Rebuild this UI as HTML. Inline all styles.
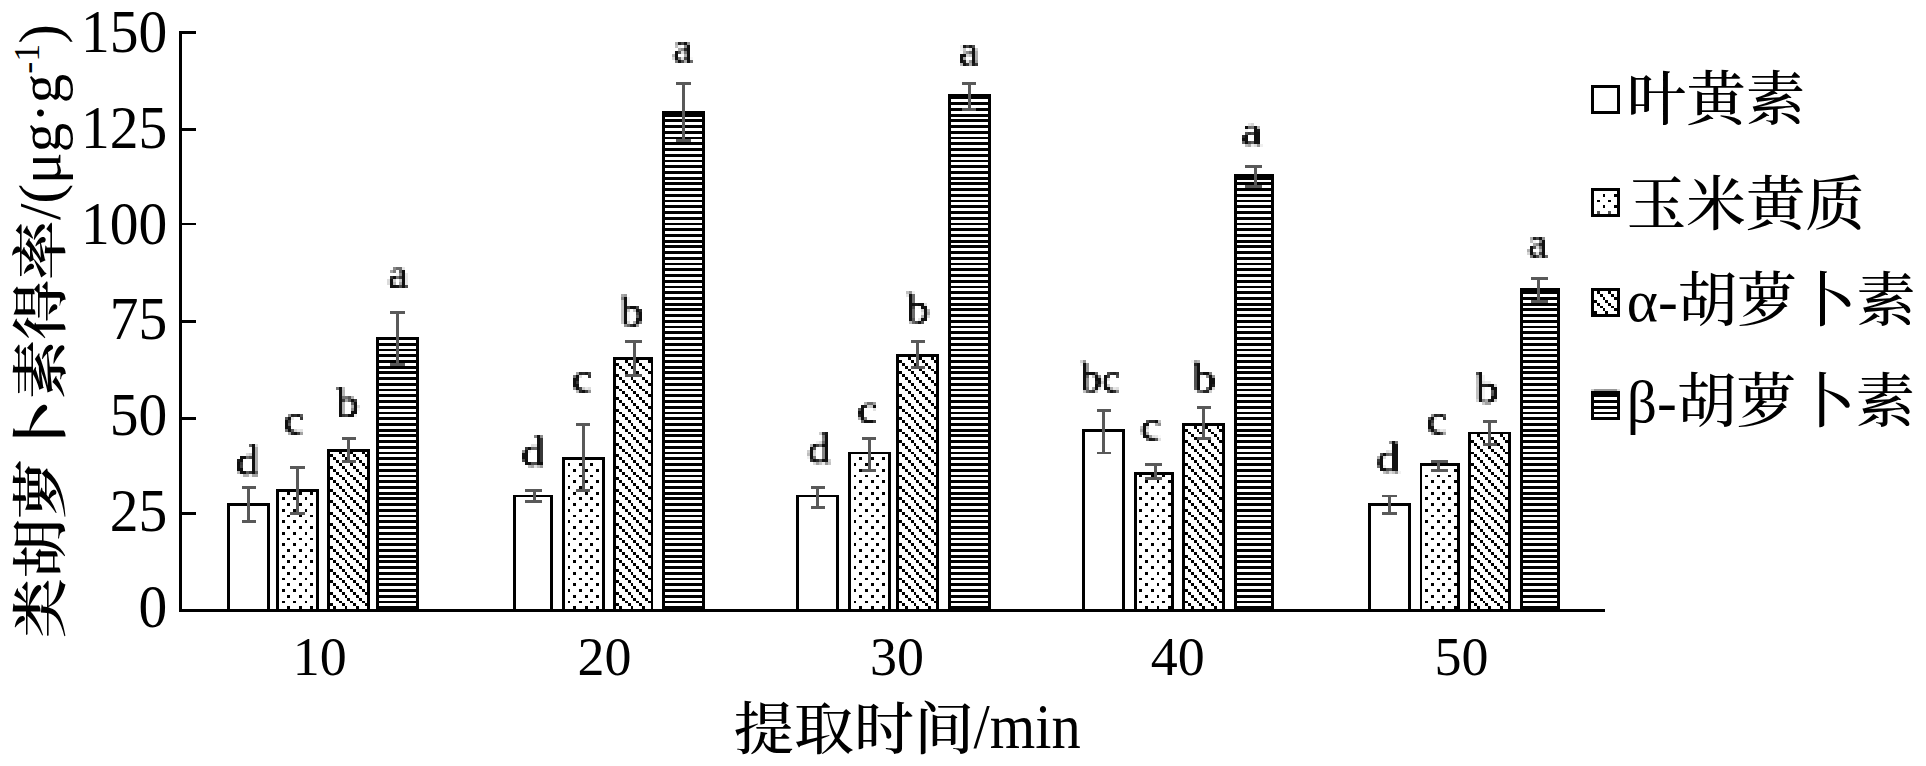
<!DOCTYPE html>
<html lang="zh"><head><meta charset="utf-8"><title>chart</title>
<style>html,body{margin:0;padding:0;background:#fff}svg{display:block}</style></head>
<body><svg width="1926" height="766" viewBox="0 0 1926 766">
<rect width="1926" height="766" fill="#fff"/>
<g transform="translate(1.5,2.056) scale(2.8591,2.8634)" shape-rendering="crispEdges">
<rect x="79" y="175" width="15" height="37" fill="#000"/>
<rect x="80" y="176" width="13" height="36" fill="#fff"/>
<rect x="96" y="170" width="15" height="42" fill="#000"/>
<rect x="97" y="171" width="13" height="41" fill="#fff"/>
<path fill="#000" d="M100 171h1v1h-1zM104 171h1v1h-1zM108 171h1v1h-1zM98 173h1v1h-1zM102 173h1v1h-1zM106 173h1v1h-1zM100 175h1v1h-1zM104 175h1v1h-1zM108 175h1v1h-1zM98 177h1v1h-1zM102 177h1v1h-1zM106 177h1v1h-1zM100 179h1v1h-1zM104 179h1v1h-1zM108 179h1v1h-1zM98 181h1v1h-1zM102 181h1v1h-1zM106 181h1v1h-1zM100 183h1v1h-1zM104 183h1v1h-1zM108 183h1v1h-1zM98 185h1v1h-1zM102 185h1v1h-1zM106 185h1v1h-1zM100 187h1v1h-1zM104 187h1v1h-1zM108 187h1v1h-1zM98 189h1v1h-1zM102 189h1v1h-1zM106 189h1v1h-1zM100 191h1v1h-1zM104 191h1v1h-1zM108 191h1v1h-1zM98 193h1v1h-1zM102 193h1v1h-1zM106 193h1v1h-1zM100 195h1v1h-1zM104 195h1v1h-1zM108 195h1v1h-1zM98 197h1v1h-1zM102 197h1v1h-1zM106 197h1v1h-1zM100 199h1v1h-1zM104 199h1v1h-1zM108 199h1v1h-1zM98 201h1v1h-1zM102 201h1v1h-1zM106 201h1v1h-1zM100 203h1v1h-1zM104 203h1v1h-1zM108 203h1v1h-1zM98 205h1v1h-1zM102 205h1v1h-1zM106 205h1v1h-1zM100 207h1v1h-1zM104 207h1v1h-1zM108 207h1v1h-1zM98 209h1v1h-1zM102 209h1v1h-1zM106 209h1v1h-1zM100 211h1v1h-1zM104 211h1v1h-1zM108 211h1v1h-1z"/>
<rect x="114" y="156" width="15" height="56" fill="#000"/>
<rect x="115" y="157" width="13" height="55" fill="#fff"/>
<path fill="#000" d="M118 157h1v1h-1zM122 157h1v1h-1zM126 157h1v1h-1zM115 158h1v1h-1zM119 158h1v1h-1zM123 158h1v1h-1zM127 158h1v1h-1zM116 159h1v1h-1zM120 159h1v1h-1zM124 159h1v1h-1zM117 160h1v1h-1zM121 160h1v1h-1zM125 160h1v1h-1zM118 161h1v1h-1zM122 161h1v1h-1zM126 161h1v1h-1zM115 162h1v1h-1zM119 162h1v1h-1zM123 162h1v1h-1zM127 162h1v1h-1zM116 163h1v1h-1zM120 163h1v1h-1zM124 163h1v1h-1zM117 164h1v1h-1zM121 164h1v1h-1zM125 164h1v1h-1zM118 165h1v1h-1zM122 165h1v1h-1zM126 165h1v1h-1zM115 166h1v1h-1zM119 166h1v1h-1zM123 166h1v1h-1zM127 166h1v1h-1zM116 167h1v1h-1zM120 167h1v1h-1zM124 167h1v1h-1zM117 168h1v1h-1zM121 168h1v1h-1zM125 168h1v1h-1zM118 169h1v1h-1zM122 169h1v1h-1zM126 169h1v1h-1zM115 170h1v1h-1zM119 170h1v1h-1zM123 170h1v1h-1zM127 170h1v1h-1zM116 171h1v1h-1zM120 171h1v1h-1zM124 171h1v1h-1zM117 172h1v1h-1zM121 172h1v1h-1zM125 172h1v1h-1zM118 173h1v1h-1zM122 173h1v1h-1zM126 173h1v1h-1zM115 174h1v1h-1zM119 174h1v1h-1zM123 174h1v1h-1zM127 174h1v1h-1zM116 175h1v1h-1zM120 175h1v1h-1zM124 175h1v1h-1zM117 176h1v1h-1zM121 176h1v1h-1zM125 176h1v1h-1zM118 177h1v1h-1zM122 177h1v1h-1zM126 177h1v1h-1zM115 178h1v1h-1zM119 178h1v1h-1zM123 178h1v1h-1zM127 178h1v1h-1zM116 179h1v1h-1zM120 179h1v1h-1zM124 179h1v1h-1zM117 180h1v1h-1zM121 180h1v1h-1zM125 180h1v1h-1zM118 181h1v1h-1zM122 181h1v1h-1zM126 181h1v1h-1zM115 182h1v1h-1zM119 182h1v1h-1zM123 182h1v1h-1zM127 182h1v1h-1zM116 183h1v1h-1zM120 183h1v1h-1zM124 183h1v1h-1zM117 184h1v1h-1zM121 184h1v1h-1zM125 184h1v1h-1zM118 185h1v1h-1zM122 185h1v1h-1zM126 185h1v1h-1zM115 186h1v1h-1zM119 186h1v1h-1zM123 186h1v1h-1zM127 186h1v1h-1zM116 187h1v1h-1zM120 187h1v1h-1zM124 187h1v1h-1zM117 188h1v1h-1zM121 188h1v1h-1zM125 188h1v1h-1zM118 189h1v1h-1zM122 189h1v1h-1zM126 189h1v1h-1zM115 190h1v1h-1zM119 190h1v1h-1zM123 190h1v1h-1zM127 190h1v1h-1zM116 191h1v1h-1zM120 191h1v1h-1zM124 191h1v1h-1zM117 192h1v1h-1zM121 192h1v1h-1zM125 192h1v1h-1zM118 193h1v1h-1zM122 193h1v1h-1zM126 193h1v1h-1zM115 194h1v1h-1zM119 194h1v1h-1zM123 194h1v1h-1zM127 194h1v1h-1zM116 195h1v1h-1zM120 195h1v1h-1zM124 195h1v1h-1zM117 196h1v1h-1zM121 196h1v1h-1zM125 196h1v1h-1zM118 197h1v1h-1zM122 197h1v1h-1zM126 197h1v1h-1zM115 198h1v1h-1zM119 198h1v1h-1zM123 198h1v1h-1zM127 198h1v1h-1zM116 199h1v1h-1zM120 199h1v1h-1zM124 199h1v1h-1zM117 200h1v1h-1zM121 200h1v1h-1zM125 200h1v1h-1zM118 201h1v1h-1zM122 201h1v1h-1zM126 201h1v1h-1zM115 202h1v1h-1zM119 202h1v1h-1zM123 202h1v1h-1zM127 202h1v1h-1zM116 203h1v1h-1zM120 203h1v1h-1zM124 203h1v1h-1zM117 204h1v1h-1zM121 204h1v1h-1zM125 204h1v1h-1zM118 205h1v1h-1zM122 205h1v1h-1zM126 205h1v1h-1zM115 206h1v1h-1zM119 206h1v1h-1zM123 206h1v1h-1zM127 206h1v1h-1zM116 207h1v1h-1zM120 207h1v1h-1zM124 207h1v1h-1zM117 208h1v1h-1zM121 208h1v1h-1zM125 208h1v1h-1zM118 209h1v1h-1zM122 209h1v1h-1zM126 209h1v1h-1zM115 210h1v1h-1zM119 210h1v1h-1zM123 210h1v1h-1zM127 210h1v1h-1zM116 211h1v1h-1zM120 211h1v1h-1zM124 211h1v1h-1z"/>
<rect x="131" y="117" width="15" height="95" fill="#000"/>
<rect x="132" y="118" width="13" height="94" fill="#fff"/>
<path fill="#000" d="M132 119h13v1h-13zM132 121h13v1h-13zM132 123h13v1h-13zM132 125h13v1h-13zM132 127h13v1h-13zM132 129h13v1h-13zM132 131h13v1h-13zM132 133h13v1h-13zM132 135h13v1h-13zM132 137h13v1h-13zM132 139h13v1h-13zM132 141h13v1h-13zM132 143h13v1h-13zM132 145h13v1h-13zM132 147h13v1h-13zM132 149h13v1h-13zM132 151h13v1h-13zM132 153h13v1h-13zM132 155h13v1h-13zM132 157h13v1h-13zM132 159h13v1h-13zM132 161h13v1h-13zM132 163h13v1h-13zM132 165h13v1h-13zM132 167h13v1h-13zM132 169h13v1h-13zM132 171h13v1h-13zM132 173h13v1h-13zM132 175h13v1h-13zM132 177h13v1h-13zM132 179h13v1h-13zM132 181h13v1h-13zM132 183h13v1h-13zM132 185h13v1h-13zM132 187h13v1h-13zM132 189h13v1h-13zM132 191h13v1h-13zM132 193h13v1h-13zM132 195h13v1h-13zM132 197h13v1h-13zM132 199h13v1h-13zM132 201h13v1h-13zM132 203h13v1h-13zM132 205h13v1h-13zM132 207h13v1h-13zM132 209h13v1h-13zM132 211h13v1h-13z"/>
<rect x="179" y="172" width="14" height="40" fill="#000"/>
<rect x="180" y="173" width="12" height="39" fill="#fff"/>
<rect x="196" y="159" width="15" height="53" fill="#000"/>
<rect x="197" y="160" width="13" height="52" fill="#fff"/>
<path fill="#000" d="M198 161h1v1h-1zM202 161h1v1h-1zM206 161h1v1h-1zM200 163h1v1h-1zM204 163h1v1h-1zM208 163h1v1h-1zM198 165h1v1h-1zM202 165h1v1h-1zM206 165h1v1h-1zM200 167h1v1h-1zM204 167h1v1h-1zM208 167h1v1h-1zM198 169h1v1h-1zM202 169h1v1h-1zM206 169h1v1h-1zM200 171h1v1h-1zM204 171h1v1h-1zM208 171h1v1h-1zM198 173h1v1h-1zM202 173h1v1h-1zM206 173h1v1h-1zM200 175h1v1h-1zM204 175h1v1h-1zM208 175h1v1h-1zM198 177h1v1h-1zM202 177h1v1h-1zM206 177h1v1h-1zM200 179h1v1h-1zM204 179h1v1h-1zM208 179h1v1h-1zM198 181h1v1h-1zM202 181h1v1h-1zM206 181h1v1h-1zM200 183h1v1h-1zM204 183h1v1h-1zM208 183h1v1h-1zM198 185h1v1h-1zM202 185h1v1h-1zM206 185h1v1h-1zM200 187h1v1h-1zM204 187h1v1h-1zM208 187h1v1h-1zM198 189h1v1h-1zM202 189h1v1h-1zM206 189h1v1h-1zM200 191h1v1h-1zM204 191h1v1h-1zM208 191h1v1h-1zM198 193h1v1h-1zM202 193h1v1h-1zM206 193h1v1h-1zM200 195h1v1h-1zM204 195h1v1h-1zM208 195h1v1h-1zM198 197h1v1h-1zM202 197h1v1h-1zM206 197h1v1h-1zM200 199h1v1h-1zM204 199h1v1h-1zM208 199h1v1h-1zM198 201h1v1h-1zM202 201h1v1h-1zM206 201h1v1h-1zM200 203h1v1h-1zM204 203h1v1h-1zM208 203h1v1h-1zM198 205h1v1h-1zM202 205h1v1h-1zM206 205h1v1h-1zM200 207h1v1h-1zM204 207h1v1h-1zM208 207h1v1h-1zM198 209h1v1h-1zM202 209h1v1h-1zM206 209h1v1h-1zM200 211h1v1h-1zM204 211h1v1h-1zM208 211h1v1h-1z"/>
<rect x="214" y="124" width="14" height="88" fill="#000"/>
<rect x="215" y="125" width="12" height="87" fill="#fff"/>
<path fill="#000" d="M218 125h1v1h-1zM222 125h1v1h-1zM226 125h1v1h-1zM215 126h1v1h-1zM219 126h1v1h-1zM223 126h1v1h-1zM216 127h1v1h-1zM220 127h1v1h-1zM224 127h1v1h-1zM217 128h1v1h-1zM221 128h1v1h-1zM225 128h1v1h-1zM218 129h1v1h-1zM222 129h1v1h-1zM226 129h1v1h-1zM215 130h1v1h-1zM219 130h1v1h-1zM223 130h1v1h-1zM216 131h1v1h-1zM220 131h1v1h-1zM224 131h1v1h-1zM217 132h1v1h-1zM221 132h1v1h-1zM225 132h1v1h-1zM218 133h1v1h-1zM222 133h1v1h-1zM226 133h1v1h-1zM215 134h1v1h-1zM219 134h1v1h-1zM223 134h1v1h-1zM216 135h1v1h-1zM220 135h1v1h-1zM224 135h1v1h-1zM217 136h1v1h-1zM221 136h1v1h-1zM225 136h1v1h-1zM218 137h1v1h-1zM222 137h1v1h-1zM226 137h1v1h-1zM215 138h1v1h-1zM219 138h1v1h-1zM223 138h1v1h-1zM216 139h1v1h-1zM220 139h1v1h-1zM224 139h1v1h-1zM217 140h1v1h-1zM221 140h1v1h-1zM225 140h1v1h-1zM218 141h1v1h-1zM222 141h1v1h-1zM226 141h1v1h-1zM215 142h1v1h-1zM219 142h1v1h-1zM223 142h1v1h-1zM216 143h1v1h-1zM220 143h1v1h-1zM224 143h1v1h-1zM217 144h1v1h-1zM221 144h1v1h-1zM225 144h1v1h-1zM218 145h1v1h-1zM222 145h1v1h-1zM226 145h1v1h-1zM215 146h1v1h-1zM219 146h1v1h-1zM223 146h1v1h-1zM216 147h1v1h-1zM220 147h1v1h-1zM224 147h1v1h-1zM217 148h1v1h-1zM221 148h1v1h-1zM225 148h1v1h-1zM218 149h1v1h-1zM222 149h1v1h-1zM226 149h1v1h-1zM215 150h1v1h-1zM219 150h1v1h-1zM223 150h1v1h-1zM216 151h1v1h-1zM220 151h1v1h-1zM224 151h1v1h-1zM217 152h1v1h-1zM221 152h1v1h-1zM225 152h1v1h-1zM218 153h1v1h-1zM222 153h1v1h-1zM226 153h1v1h-1zM215 154h1v1h-1zM219 154h1v1h-1zM223 154h1v1h-1zM216 155h1v1h-1zM220 155h1v1h-1zM224 155h1v1h-1zM217 156h1v1h-1zM221 156h1v1h-1zM225 156h1v1h-1zM218 157h1v1h-1zM222 157h1v1h-1zM226 157h1v1h-1zM215 158h1v1h-1zM219 158h1v1h-1zM223 158h1v1h-1zM216 159h1v1h-1zM220 159h1v1h-1zM224 159h1v1h-1zM217 160h1v1h-1zM221 160h1v1h-1zM225 160h1v1h-1zM218 161h1v1h-1zM222 161h1v1h-1zM226 161h1v1h-1zM215 162h1v1h-1zM219 162h1v1h-1zM223 162h1v1h-1zM216 163h1v1h-1zM220 163h1v1h-1zM224 163h1v1h-1zM217 164h1v1h-1zM221 164h1v1h-1zM225 164h1v1h-1zM218 165h1v1h-1zM222 165h1v1h-1zM226 165h1v1h-1zM215 166h1v1h-1zM219 166h1v1h-1zM223 166h1v1h-1zM216 167h1v1h-1zM220 167h1v1h-1zM224 167h1v1h-1zM217 168h1v1h-1zM221 168h1v1h-1zM225 168h1v1h-1zM218 169h1v1h-1zM222 169h1v1h-1zM226 169h1v1h-1zM215 170h1v1h-1zM219 170h1v1h-1zM223 170h1v1h-1zM216 171h1v1h-1zM220 171h1v1h-1zM224 171h1v1h-1zM217 172h1v1h-1zM221 172h1v1h-1zM225 172h1v1h-1zM218 173h1v1h-1zM222 173h1v1h-1zM226 173h1v1h-1zM215 174h1v1h-1zM219 174h1v1h-1zM223 174h1v1h-1zM216 175h1v1h-1zM220 175h1v1h-1zM224 175h1v1h-1zM217 176h1v1h-1zM221 176h1v1h-1zM225 176h1v1h-1zM218 177h1v1h-1zM222 177h1v1h-1zM226 177h1v1h-1zM215 178h1v1h-1zM219 178h1v1h-1zM223 178h1v1h-1zM216 179h1v1h-1zM220 179h1v1h-1zM224 179h1v1h-1zM217 180h1v1h-1zM221 180h1v1h-1zM225 180h1v1h-1zM218 181h1v1h-1zM222 181h1v1h-1zM226 181h1v1h-1zM215 182h1v1h-1zM219 182h1v1h-1zM223 182h1v1h-1zM216 183h1v1h-1zM220 183h1v1h-1zM224 183h1v1h-1zM217 184h1v1h-1zM221 184h1v1h-1zM225 184h1v1h-1zM218 185h1v1h-1zM222 185h1v1h-1zM226 185h1v1h-1zM215 186h1v1h-1zM219 186h1v1h-1zM223 186h1v1h-1zM216 187h1v1h-1zM220 187h1v1h-1zM224 187h1v1h-1zM217 188h1v1h-1zM221 188h1v1h-1zM225 188h1v1h-1zM218 189h1v1h-1zM222 189h1v1h-1zM226 189h1v1h-1zM215 190h1v1h-1zM219 190h1v1h-1zM223 190h1v1h-1zM216 191h1v1h-1zM220 191h1v1h-1zM224 191h1v1h-1zM217 192h1v1h-1zM221 192h1v1h-1zM225 192h1v1h-1zM218 193h1v1h-1zM222 193h1v1h-1zM226 193h1v1h-1zM215 194h1v1h-1zM219 194h1v1h-1zM223 194h1v1h-1zM216 195h1v1h-1zM220 195h1v1h-1zM224 195h1v1h-1zM217 196h1v1h-1zM221 196h1v1h-1zM225 196h1v1h-1zM218 197h1v1h-1zM222 197h1v1h-1zM226 197h1v1h-1zM215 198h1v1h-1zM219 198h1v1h-1zM223 198h1v1h-1zM216 199h1v1h-1zM220 199h1v1h-1zM224 199h1v1h-1zM217 200h1v1h-1zM221 200h1v1h-1zM225 200h1v1h-1zM218 201h1v1h-1zM222 201h1v1h-1zM226 201h1v1h-1zM215 202h1v1h-1zM219 202h1v1h-1zM223 202h1v1h-1zM216 203h1v1h-1zM220 203h1v1h-1zM224 203h1v1h-1zM217 204h1v1h-1zM221 204h1v1h-1zM225 204h1v1h-1zM218 205h1v1h-1zM222 205h1v1h-1zM226 205h1v1h-1zM215 206h1v1h-1zM219 206h1v1h-1zM223 206h1v1h-1zM216 207h1v1h-1zM220 207h1v1h-1zM224 207h1v1h-1zM217 208h1v1h-1zM221 208h1v1h-1zM225 208h1v1h-1zM218 209h1v1h-1zM222 209h1v1h-1zM226 209h1v1h-1zM215 210h1v1h-1zM219 210h1v1h-1zM223 210h1v1h-1zM216 211h1v1h-1zM220 211h1v1h-1zM224 211h1v1h-1z"/>
<rect x="231" y="38" width="15" height="174" fill="#000"/>
<rect x="232" y="39" width="13" height="173" fill="#fff"/>
<path fill="#000" d="M232 39h13v1h-13zM232 41h13v1h-13zM232 43h13v1h-13zM232 45h13v1h-13zM232 47h13v1h-13zM232 49h13v1h-13zM232 51h13v1h-13zM232 53h13v1h-13zM232 55h13v1h-13zM232 57h13v1h-13zM232 59h13v1h-13zM232 61h13v1h-13zM232 63h13v1h-13zM232 65h13v1h-13zM232 67h13v1h-13zM232 69h13v1h-13zM232 71h13v1h-13zM232 73h13v1h-13zM232 75h13v1h-13zM232 77h13v1h-13zM232 79h13v1h-13zM232 81h13v1h-13zM232 83h13v1h-13zM232 85h13v1h-13zM232 87h13v1h-13zM232 89h13v1h-13zM232 91h13v1h-13zM232 93h13v1h-13zM232 95h13v1h-13zM232 97h13v1h-13zM232 99h13v1h-13zM232 101h13v1h-13zM232 103h13v1h-13zM232 105h13v1h-13zM232 107h13v1h-13zM232 109h13v1h-13zM232 111h13v1h-13zM232 113h13v1h-13zM232 115h13v1h-13zM232 117h13v1h-13zM232 119h13v1h-13zM232 121h13v1h-13zM232 123h13v1h-13zM232 125h13v1h-13zM232 127h13v1h-13zM232 129h13v1h-13zM232 131h13v1h-13zM232 133h13v1h-13zM232 135h13v1h-13zM232 137h13v1h-13zM232 139h13v1h-13zM232 141h13v1h-13zM232 143h13v1h-13zM232 145h13v1h-13zM232 147h13v1h-13zM232 149h13v1h-13zM232 151h13v1h-13zM232 153h13v1h-13zM232 155h13v1h-13zM232 157h13v1h-13zM232 159h13v1h-13zM232 161h13v1h-13zM232 163h13v1h-13zM232 165h13v1h-13zM232 167h13v1h-13zM232 169h13v1h-13zM232 171h13v1h-13zM232 173h13v1h-13zM232 175h13v1h-13zM232 177h13v1h-13zM232 179h13v1h-13zM232 181h13v1h-13zM232 183h13v1h-13zM232 185h13v1h-13zM232 187h13v1h-13zM232 189h13v1h-13zM232 191h13v1h-13zM232 193h13v1h-13zM232 195h13v1h-13zM232 197h13v1h-13zM232 199h13v1h-13zM232 201h13v1h-13zM232 203h13v1h-13zM232 205h13v1h-13zM232 207h13v1h-13zM232 209h13v1h-13zM232 211h13v1h-13z"/>
<rect x="278" y="172" width="15" height="40" fill="#000"/>
<rect x="279" y="173" width="13" height="39" fill="#fff"/>
<rect x="296" y="157" width="15" height="55" fill="#000"/>
<rect x="297" y="158" width="13" height="54" fill="#fff"/>
<path fill="#000" d="M300 159h1v1h-1zM304 159h1v1h-1zM308 159h1v1h-1zM298 161h1v1h-1zM302 161h1v1h-1zM306 161h1v1h-1zM300 163h1v1h-1zM304 163h1v1h-1zM308 163h1v1h-1zM298 165h1v1h-1zM302 165h1v1h-1zM306 165h1v1h-1zM300 167h1v1h-1zM304 167h1v1h-1zM308 167h1v1h-1zM298 169h1v1h-1zM302 169h1v1h-1zM306 169h1v1h-1zM300 171h1v1h-1zM304 171h1v1h-1zM308 171h1v1h-1zM298 173h1v1h-1zM302 173h1v1h-1zM306 173h1v1h-1zM300 175h1v1h-1zM304 175h1v1h-1zM308 175h1v1h-1zM298 177h1v1h-1zM302 177h1v1h-1zM306 177h1v1h-1zM300 179h1v1h-1zM304 179h1v1h-1zM308 179h1v1h-1zM298 181h1v1h-1zM302 181h1v1h-1zM306 181h1v1h-1zM300 183h1v1h-1zM304 183h1v1h-1zM308 183h1v1h-1zM298 185h1v1h-1zM302 185h1v1h-1zM306 185h1v1h-1zM300 187h1v1h-1zM304 187h1v1h-1zM308 187h1v1h-1zM298 189h1v1h-1zM302 189h1v1h-1zM306 189h1v1h-1zM300 191h1v1h-1zM304 191h1v1h-1zM308 191h1v1h-1zM298 193h1v1h-1zM302 193h1v1h-1zM306 193h1v1h-1zM300 195h1v1h-1zM304 195h1v1h-1zM308 195h1v1h-1zM298 197h1v1h-1zM302 197h1v1h-1zM306 197h1v1h-1zM300 199h1v1h-1zM304 199h1v1h-1zM308 199h1v1h-1zM298 201h1v1h-1zM302 201h1v1h-1zM306 201h1v1h-1zM300 203h1v1h-1zM304 203h1v1h-1zM308 203h1v1h-1zM298 205h1v1h-1zM302 205h1v1h-1zM306 205h1v1h-1zM300 207h1v1h-1zM304 207h1v1h-1zM308 207h1v1h-1zM298 209h1v1h-1zM302 209h1v1h-1zM306 209h1v1h-1zM300 211h1v1h-1zM304 211h1v1h-1zM308 211h1v1h-1z"/>
<rect x="313" y="123" width="15" height="89" fill="#000"/>
<rect x="314" y="124" width="13" height="88" fill="#fff"/>
<path fill="#000" d="M317 124h1v1h-1zM321 124h1v1h-1zM325 124h1v1h-1zM314 125h1v1h-1zM318 125h1v1h-1zM322 125h1v1h-1zM326 125h1v1h-1zM315 126h1v1h-1zM319 126h1v1h-1zM323 126h1v1h-1zM316 127h1v1h-1zM320 127h1v1h-1zM324 127h1v1h-1zM317 128h1v1h-1zM321 128h1v1h-1zM325 128h1v1h-1zM314 129h1v1h-1zM318 129h1v1h-1zM322 129h1v1h-1zM326 129h1v1h-1zM315 130h1v1h-1zM319 130h1v1h-1zM323 130h1v1h-1zM316 131h1v1h-1zM320 131h1v1h-1zM324 131h1v1h-1zM317 132h1v1h-1zM321 132h1v1h-1zM325 132h1v1h-1zM314 133h1v1h-1zM318 133h1v1h-1zM322 133h1v1h-1zM326 133h1v1h-1zM315 134h1v1h-1zM319 134h1v1h-1zM323 134h1v1h-1zM316 135h1v1h-1zM320 135h1v1h-1zM324 135h1v1h-1zM317 136h1v1h-1zM321 136h1v1h-1zM325 136h1v1h-1zM314 137h1v1h-1zM318 137h1v1h-1zM322 137h1v1h-1zM326 137h1v1h-1zM315 138h1v1h-1zM319 138h1v1h-1zM323 138h1v1h-1zM316 139h1v1h-1zM320 139h1v1h-1zM324 139h1v1h-1zM317 140h1v1h-1zM321 140h1v1h-1zM325 140h1v1h-1zM314 141h1v1h-1zM318 141h1v1h-1zM322 141h1v1h-1zM326 141h1v1h-1zM315 142h1v1h-1zM319 142h1v1h-1zM323 142h1v1h-1zM316 143h1v1h-1zM320 143h1v1h-1zM324 143h1v1h-1zM317 144h1v1h-1zM321 144h1v1h-1zM325 144h1v1h-1zM314 145h1v1h-1zM318 145h1v1h-1zM322 145h1v1h-1zM326 145h1v1h-1zM315 146h1v1h-1zM319 146h1v1h-1zM323 146h1v1h-1zM316 147h1v1h-1zM320 147h1v1h-1zM324 147h1v1h-1zM317 148h1v1h-1zM321 148h1v1h-1zM325 148h1v1h-1zM314 149h1v1h-1zM318 149h1v1h-1zM322 149h1v1h-1zM326 149h1v1h-1zM315 150h1v1h-1zM319 150h1v1h-1zM323 150h1v1h-1zM316 151h1v1h-1zM320 151h1v1h-1zM324 151h1v1h-1zM317 152h1v1h-1zM321 152h1v1h-1zM325 152h1v1h-1zM314 153h1v1h-1zM318 153h1v1h-1zM322 153h1v1h-1zM326 153h1v1h-1zM315 154h1v1h-1zM319 154h1v1h-1zM323 154h1v1h-1zM316 155h1v1h-1zM320 155h1v1h-1zM324 155h1v1h-1zM317 156h1v1h-1zM321 156h1v1h-1zM325 156h1v1h-1zM314 157h1v1h-1zM318 157h1v1h-1zM322 157h1v1h-1zM326 157h1v1h-1zM315 158h1v1h-1zM319 158h1v1h-1zM323 158h1v1h-1zM316 159h1v1h-1zM320 159h1v1h-1zM324 159h1v1h-1zM317 160h1v1h-1zM321 160h1v1h-1zM325 160h1v1h-1zM314 161h1v1h-1zM318 161h1v1h-1zM322 161h1v1h-1zM326 161h1v1h-1zM315 162h1v1h-1zM319 162h1v1h-1zM323 162h1v1h-1zM316 163h1v1h-1zM320 163h1v1h-1zM324 163h1v1h-1zM317 164h1v1h-1zM321 164h1v1h-1zM325 164h1v1h-1zM314 165h1v1h-1zM318 165h1v1h-1zM322 165h1v1h-1zM326 165h1v1h-1zM315 166h1v1h-1zM319 166h1v1h-1zM323 166h1v1h-1zM316 167h1v1h-1zM320 167h1v1h-1zM324 167h1v1h-1zM317 168h1v1h-1zM321 168h1v1h-1zM325 168h1v1h-1zM314 169h1v1h-1zM318 169h1v1h-1zM322 169h1v1h-1zM326 169h1v1h-1zM315 170h1v1h-1zM319 170h1v1h-1zM323 170h1v1h-1zM316 171h1v1h-1zM320 171h1v1h-1zM324 171h1v1h-1zM317 172h1v1h-1zM321 172h1v1h-1zM325 172h1v1h-1zM314 173h1v1h-1zM318 173h1v1h-1zM322 173h1v1h-1zM326 173h1v1h-1zM315 174h1v1h-1zM319 174h1v1h-1zM323 174h1v1h-1zM316 175h1v1h-1zM320 175h1v1h-1zM324 175h1v1h-1zM317 176h1v1h-1zM321 176h1v1h-1zM325 176h1v1h-1zM314 177h1v1h-1zM318 177h1v1h-1zM322 177h1v1h-1zM326 177h1v1h-1zM315 178h1v1h-1zM319 178h1v1h-1zM323 178h1v1h-1zM316 179h1v1h-1zM320 179h1v1h-1zM324 179h1v1h-1zM317 180h1v1h-1zM321 180h1v1h-1zM325 180h1v1h-1zM314 181h1v1h-1zM318 181h1v1h-1zM322 181h1v1h-1zM326 181h1v1h-1zM315 182h1v1h-1zM319 182h1v1h-1zM323 182h1v1h-1zM316 183h1v1h-1zM320 183h1v1h-1zM324 183h1v1h-1zM317 184h1v1h-1zM321 184h1v1h-1zM325 184h1v1h-1zM314 185h1v1h-1zM318 185h1v1h-1zM322 185h1v1h-1zM326 185h1v1h-1zM315 186h1v1h-1zM319 186h1v1h-1zM323 186h1v1h-1zM316 187h1v1h-1zM320 187h1v1h-1zM324 187h1v1h-1zM317 188h1v1h-1zM321 188h1v1h-1zM325 188h1v1h-1zM314 189h1v1h-1zM318 189h1v1h-1zM322 189h1v1h-1zM326 189h1v1h-1zM315 190h1v1h-1zM319 190h1v1h-1zM323 190h1v1h-1zM316 191h1v1h-1zM320 191h1v1h-1zM324 191h1v1h-1zM317 192h1v1h-1zM321 192h1v1h-1zM325 192h1v1h-1zM314 193h1v1h-1zM318 193h1v1h-1zM322 193h1v1h-1zM326 193h1v1h-1zM315 194h1v1h-1zM319 194h1v1h-1zM323 194h1v1h-1zM316 195h1v1h-1zM320 195h1v1h-1zM324 195h1v1h-1zM317 196h1v1h-1zM321 196h1v1h-1zM325 196h1v1h-1zM314 197h1v1h-1zM318 197h1v1h-1zM322 197h1v1h-1zM326 197h1v1h-1zM315 198h1v1h-1zM319 198h1v1h-1zM323 198h1v1h-1zM316 199h1v1h-1zM320 199h1v1h-1zM324 199h1v1h-1zM317 200h1v1h-1zM321 200h1v1h-1zM325 200h1v1h-1zM314 201h1v1h-1zM318 201h1v1h-1zM322 201h1v1h-1zM326 201h1v1h-1zM315 202h1v1h-1zM319 202h1v1h-1zM323 202h1v1h-1zM316 203h1v1h-1zM320 203h1v1h-1zM324 203h1v1h-1zM317 204h1v1h-1zM321 204h1v1h-1zM325 204h1v1h-1zM314 205h1v1h-1zM318 205h1v1h-1zM322 205h1v1h-1zM326 205h1v1h-1zM315 206h1v1h-1zM319 206h1v1h-1zM323 206h1v1h-1zM316 207h1v1h-1zM320 207h1v1h-1zM324 207h1v1h-1zM317 208h1v1h-1zM321 208h1v1h-1zM325 208h1v1h-1zM314 209h1v1h-1zM318 209h1v1h-1zM322 209h1v1h-1zM326 209h1v1h-1zM315 210h1v1h-1zM319 210h1v1h-1zM323 210h1v1h-1zM316 211h1v1h-1zM320 211h1v1h-1zM324 211h1v1h-1z"/>
<rect x="331" y="32" width="15" height="180" fill="#000"/>
<rect x="332" y="33" width="13" height="179" fill="#fff"/>
<path fill="#000" d="M332 33h13v1h-13zM332 35h13v1h-13zM332 37h13v1h-13zM332 39h13v1h-13zM332 41h13v1h-13zM332 43h13v1h-13zM332 45h13v1h-13zM332 47h13v1h-13zM332 49h13v1h-13zM332 51h13v1h-13zM332 53h13v1h-13zM332 55h13v1h-13zM332 57h13v1h-13zM332 59h13v1h-13zM332 61h13v1h-13zM332 63h13v1h-13zM332 65h13v1h-13zM332 67h13v1h-13zM332 69h13v1h-13zM332 71h13v1h-13zM332 73h13v1h-13zM332 75h13v1h-13zM332 77h13v1h-13zM332 79h13v1h-13zM332 81h13v1h-13zM332 83h13v1h-13zM332 85h13v1h-13zM332 87h13v1h-13zM332 89h13v1h-13zM332 91h13v1h-13zM332 93h13v1h-13zM332 95h13v1h-13zM332 97h13v1h-13zM332 99h13v1h-13zM332 101h13v1h-13zM332 103h13v1h-13zM332 105h13v1h-13zM332 107h13v1h-13zM332 109h13v1h-13zM332 111h13v1h-13zM332 113h13v1h-13zM332 115h13v1h-13zM332 117h13v1h-13zM332 119h13v1h-13zM332 121h13v1h-13zM332 123h13v1h-13zM332 125h13v1h-13zM332 127h13v1h-13zM332 129h13v1h-13zM332 131h13v1h-13zM332 133h13v1h-13zM332 135h13v1h-13zM332 137h13v1h-13zM332 139h13v1h-13zM332 141h13v1h-13zM332 143h13v1h-13zM332 145h13v1h-13zM332 147h13v1h-13zM332 149h13v1h-13zM332 151h13v1h-13zM332 153h13v1h-13zM332 155h13v1h-13zM332 157h13v1h-13zM332 159h13v1h-13zM332 161h13v1h-13zM332 163h13v1h-13zM332 165h13v1h-13zM332 167h13v1h-13zM332 169h13v1h-13zM332 171h13v1h-13zM332 173h13v1h-13zM332 175h13v1h-13zM332 177h13v1h-13zM332 179h13v1h-13zM332 181h13v1h-13zM332 183h13v1h-13zM332 185h13v1h-13zM332 187h13v1h-13zM332 189h13v1h-13zM332 191h13v1h-13zM332 193h13v1h-13zM332 195h13v1h-13zM332 197h13v1h-13zM332 199h13v1h-13zM332 201h13v1h-13zM332 203h13v1h-13zM332 205h13v1h-13zM332 207h13v1h-13zM332 209h13v1h-13zM332 211h13v1h-13z"/>
<rect x="378" y="149" width="15" height="63" fill="#000"/>
<rect x="379" y="150" width="13" height="62" fill="#fff"/>
<rect x="396" y="164" width="14" height="48" fill="#000"/>
<rect x="397" y="165" width="12" height="47" fill="#fff"/>
<path fill="#000" d="M398 165h1v1h-1zM402 165h1v1h-1zM406 165h1v1h-1zM400 167h1v1h-1zM404 167h1v1h-1zM408 167h1v1h-1zM398 169h1v1h-1zM402 169h1v1h-1zM406 169h1v1h-1zM400 171h1v1h-1zM404 171h1v1h-1zM408 171h1v1h-1zM398 173h1v1h-1zM402 173h1v1h-1zM406 173h1v1h-1zM400 175h1v1h-1zM404 175h1v1h-1zM408 175h1v1h-1zM398 177h1v1h-1zM402 177h1v1h-1zM406 177h1v1h-1zM400 179h1v1h-1zM404 179h1v1h-1zM408 179h1v1h-1zM398 181h1v1h-1zM402 181h1v1h-1zM406 181h1v1h-1zM400 183h1v1h-1zM404 183h1v1h-1zM408 183h1v1h-1zM398 185h1v1h-1zM402 185h1v1h-1zM406 185h1v1h-1zM400 187h1v1h-1zM404 187h1v1h-1zM408 187h1v1h-1zM398 189h1v1h-1zM402 189h1v1h-1zM406 189h1v1h-1zM400 191h1v1h-1zM404 191h1v1h-1zM408 191h1v1h-1zM398 193h1v1h-1zM402 193h1v1h-1zM406 193h1v1h-1zM400 195h1v1h-1zM404 195h1v1h-1zM408 195h1v1h-1zM398 197h1v1h-1zM402 197h1v1h-1zM406 197h1v1h-1zM400 199h1v1h-1zM404 199h1v1h-1zM408 199h1v1h-1zM398 201h1v1h-1zM402 201h1v1h-1zM406 201h1v1h-1zM400 203h1v1h-1zM404 203h1v1h-1zM408 203h1v1h-1zM398 205h1v1h-1zM402 205h1v1h-1zM406 205h1v1h-1zM400 207h1v1h-1zM404 207h1v1h-1zM408 207h1v1h-1zM398 209h1v1h-1zM402 209h1v1h-1zM406 209h1v1h-1zM400 211h1v1h-1zM404 211h1v1h-1zM408 211h1v1h-1z"/>
<rect x="413" y="147" width="15" height="65" fill="#000"/>
<rect x="414" y="148" width="13" height="64" fill="#fff"/>
<path fill="#000" d="M417 148h1v1h-1zM421 148h1v1h-1zM425 148h1v1h-1zM414 149h1v1h-1zM418 149h1v1h-1zM422 149h1v1h-1zM426 149h1v1h-1zM415 150h1v1h-1zM419 150h1v1h-1zM423 150h1v1h-1zM416 151h1v1h-1zM420 151h1v1h-1zM424 151h1v1h-1zM417 152h1v1h-1zM421 152h1v1h-1zM425 152h1v1h-1zM414 153h1v1h-1zM418 153h1v1h-1zM422 153h1v1h-1zM426 153h1v1h-1zM415 154h1v1h-1zM419 154h1v1h-1zM423 154h1v1h-1zM416 155h1v1h-1zM420 155h1v1h-1zM424 155h1v1h-1zM417 156h1v1h-1zM421 156h1v1h-1zM425 156h1v1h-1zM414 157h1v1h-1zM418 157h1v1h-1zM422 157h1v1h-1zM426 157h1v1h-1zM415 158h1v1h-1zM419 158h1v1h-1zM423 158h1v1h-1zM416 159h1v1h-1zM420 159h1v1h-1zM424 159h1v1h-1zM417 160h1v1h-1zM421 160h1v1h-1zM425 160h1v1h-1zM414 161h1v1h-1zM418 161h1v1h-1zM422 161h1v1h-1zM426 161h1v1h-1zM415 162h1v1h-1zM419 162h1v1h-1zM423 162h1v1h-1zM416 163h1v1h-1zM420 163h1v1h-1zM424 163h1v1h-1zM417 164h1v1h-1zM421 164h1v1h-1zM425 164h1v1h-1zM414 165h1v1h-1zM418 165h1v1h-1zM422 165h1v1h-1zM426 165h1v1h-1zM415 166h1v1h-1zM419 166h1v1h-1zM423 166h1v1h-1zM416 167h1v1h-1zM420 167h1v1h-1zM424 167h1v1h-1zM417 168h1v1h-1zM421 168h1v1h-1zM425 168h1v1h-1zM414 169h1v1h-1zM418 169h1v1h-1zM422 169h1v1h-1zM426 169h1v1h-1zM415 170h1v1h-1zM419 170h1v1h-1zM423 170h1v1h-1zM416 171h1v1h-1zM420 171h1v1h-1zM424 171h1v1h-1zM417 172h1v1h-1zM421 172h1v1h-1zM425 172h1v1h-1zM414 173h1v1h-1zM418 173h1v1h-1zM422 173h1v1h-1zM426 173h1v1h-1zM415 174h1v1h-1zM419 174h1v1h-1zM423 174h1v1h-1zM416 175h1v1h-1zM420 175h1v1h-1zM424 175h1v1h-1zM417 176h1v1h-1zM421 176h1v1h-1zM425 176h1v1h-1zM414 177h1v1h-1zM418 177h1v1h-1zM422 177h1v1h-1zM426 177h1v1h-1zM415 178h1v1h-1zM419 178h1v1h-1zM423 178h1v1h-1zM416 179h1v1h-1zM420 179h1v1h-1zM424 179h1v1h-1zM417 180h1v1h-1zM421 180h1v1h-1zM425 180h1v1h-1zM414 181h1v1h-1zM418 181h1v1h-1zM422 181h1v1h-1zM426 181h1v1h-1zM415 182h1v1h-1zM419 182h1v1h-1zM423 182h1v1h-1zM416 183h1v1h-1zM420 183h1v1h-1zM424 183h1v1h-1zM417 184h1v1h-1zM421 184h1v1h-1zM425 184h1v1h-1zM414 185h1v1h-1zM418 185h1v1h-1zM422 185h1v1h-1zM426 185h1v1h-1zM415 186h1v1h-1zM419 186h1v1h-1zM423 186h1v1h-1zM416 187h1v1h-1zM420 187h1v1h-1zM424 187h1v1h-1zM417 188h1v1h-1zM421 188h1v1h-1zM425 188h1v1h-1zM414 189h1v1h-1zM418 189h1v1h-1zM422 189h1v1h-1zM426 189h1v1h-1zM415 190h1v1h-1zM419 190h1v1h-1zM423 190h1v1h-1zM416 191h1v1h-1zM420 191h1v1h-1zM424 191h1v1h-1zM417 192h1v1h-1zM421 192h1v1h-1zM425 192h1v1h-1zM414 193h1v1h-1zM418 193h1v1h-1zM422 193h1v1h-1zM426 193h1v1h-1zM415 194h1v1h-1zM419 194h1v1h-1zM423 194h1v1h-1zM416 195h1v1h-1zM420 195h1v1h-1zM424 195h1v1h-1zM417 196h1v1h-1zM421 196h1v1h-1zM425 196h1v1h-1zM414 197h1v1h-1zM418 197h1v1h-1zM422 197h1v1h-1zM426 197h1v1h-1zM415 198h1v1h-1zM419 198h1v1h-1zM423 198h1v1h-1zM416 199h1v1h-1zM420 199h1v1h-1zM424 199h1v1h-1zM417 200h1v1h-1zM421 200h1v1h-1zM425 200h1v1h-1zM414 201h1v1h-1zM418 201h1v1h-1zM422 201h1v1h-1zM426 201h1v1h-1zM415 202h1v1h-1zM419 202h1v1h-1zM423 202h1v1h-1zM416 203h1v1h-1zM420 203h1v1h-1zM424 203h1v1h-1zM417 204h1v1h-1zM421 204h1v1h-1zM425 204h1v1h-1zM414 205h1v1h-1zM418 205h1v1h-1zM422 205h1v1h-1zM426 205h1v1h-1zM415 206h1v1h-1zM419 206h1v1h-1zM423 206h1v1h-1zM416 207h1v1h-1zM420 207h1v1h-1zM424 207h1v1h-1zM417 208h1v1h-1zM421 208h1v1h-1zM425 208h1v1h-1zM414 209h1v1h-1zM418 209h1v1h-1zM422 209h1v1h-1zM426 209h1v1h-1zM415 210h1v1h-1zM419 210h1v1h-1zM423 210h1v1h-1zM416 211h1v1h-1zM420 211h1v1h-1zM424 211h1v1h-1z"/>
<rect x="431" y="60" width="14" height="152" fill="#000"/>
<rect x="432" y="61" width="12" height="151" fill="#fff"/>
<path fill="#000" d="M432 61h12v1h-12zM432 63h12v1h-12zM432 65h12v1h-12zM432 67h12v1h-12zM432 69h12v1h-12zM432 71h12v1h-12zM432 73h12v1h-12zM432 75h12v1h-12zM432 77h12v1h-12zM432 79h12v1h-12zM432 81h12v1h-12zM432 83h12v1h-12zM432 85h12v1h-12zM432 87h12v1h-12zM432 89h12v1h-12zM432 91h12v1h-12zM432 93h12v1h-12zM432 95h12v1h-12zM432 97h12v1h-12zM432 99h12v1h-12zM432 101h12v1h-12zM432 103h12v1h-12zM432 105h12v1h-12zM432 107h12v1h-12zM432 109h12v1h-12zM432 111h12v1h-12zM432 113h12v1h-12zM432 115h12v1h-12zM432 117h12v1h-12zM432 119h12v1h-12zM432 121h12v1h-12zM432 123h12v1h-12zM432 125h12v1h-12zM432 127h12v1h-12zM432 129h12v1h-12zM432 131h12v1h-12zM432 133h12v1h-12zM432 135h12v1h-12zM432 137h12v1h-12zM432 139h12v1h-12zM432 141h12v1h-12zM432 143h12v1h-12zM432 145h12v1h-12zM432 147h12v1h-12zM432 149h12v1h-12zM432 151h12v1h-12zM432 153h12v1h-12zM432 155h12v1h-12zM432 157h12v1h-12zM432 159h12v1h-12zM432 161h12v1h-12zM432 163h12v1h-12zM432 165h12v1h-12zM432 167h12v1h-12zM432 169h12v1h-12zM432 171h12v1h-12zM432 173h12v1h-12zM432 175h12v1h-12zM432 177h12v1h-12zM432 179h12v1h-12zM432 181h12v1h-12zM432 183h12v1h-12zM432 185h12v1h-12zM432 187h12v1h-12zM432 189h12v1h-12zM432 191h12v1h-12zM432 193h12v1h-12zM432 195h12v1h-12zM432 197h12v1h-12zM432 199h12v1h-12zM432 201h12v1h-12zM432 203h12v1h-12zM432 205h12v1h-12zM432 207h12v1h-12zM432 209h12v1h-12zM432 211h12v1h-12z"/>
<rect x="478" y="175" width="15" height="37" fill="#000"/>
<rect x="479" y="176" width="13" height="36" fill="#fff"/>
<rect x="496" y="161" width="14" height="51" fill="#000"/>
<rect x="497" y="162" width="12" height="50" fill="#fff"/>
<path fill="#000" d="M500 163h1v1h-1zM504 163h1v1h-1zM508 163h1v1h-1zM498 165h1v1h-1zM502 165h1v1h-1zM506 165h1v1h-1zM500 167h1v1h-1zM504 167h1v1h-1zM508 167h1v1h-1zM498 169h1v1h-1zM502 169h1v1h-1zM506 169h1v1h-1zM500 171h1v1h-1zM504 171h1v1h-1zM508 171h1v1h-1zM498 173h1v1h-1zM502 173h1v1h-1zM506 173h1v1h-1zM500 175h1v1h-1zM504 175h1v1h-1zM508 175h1v1h-1zM498 177h1v1h-1zM502 177h1v1h-1zM506 177h1v1h-1zM500 179h1v1h-1zM504 179h1v1h-1zM508 179h1v1h-1zM498 181h1v1h-1zM502 181h1v1h-1zM506 181h1v1h-1zM500 183h1v1h-1zM504 183h1v1h-1zM508 183h1v1h-1zM498 185h1v1h-1zM502 185h1v1h-1zM506 185h1v1h-1zM500 187h1v1h-1zM504 187h1v1h-1zM508 187h1v1h-1zM498 189h1v1h-1zM502 189h1v1h-1zM506 189h1v1h-1zM500 191h1v1h-1zM504 191h1v1h-1zM508 191h1v1h-1zM498 193h1v1h-1zM502 193h1v1h-1zM506 193h1v1h-1zM500 195h1v1h-1zM504 195h1v1h-1zM508 195h1v1h-1zM498 197h1v1h-1zM502 197h1v1h-1zM506 197h1v1h-1zM500 199h1v1h-1zM504 199h1v1h-1zM508 199h1v1h-1zM498 201h1v1h-1zM502 201h1v1h-1zM506 201h1v1h-1zM500 203h1v1h-1zM504 203h1v1h-1zM508 203h1v1h-1zM498 205h1v1h-1zM502 205h1v1h-1zM506 205h1v1h-1zM500 207h1v1h-1zM504 207h1v1h-1zM508 207h1v1h-1zM498 209h1v1h-1zM502 209h1v1h-1zM506 209h1v1h-1zM500 211h1v1h-1zM504 211h1v1h-1zM508 211h1v1h-1z"/>
<rect x="513" y="150" width="15" height="62" fill="#000"/>
<rect x="514" y="151" width="13" height="61" fill="#fff"/>
<path fill="#000" d="M516 151h1v1h-1zM520 151h1v1h-1zM524 151h1v1h-1zM517 152h1v1h-1zM521 152h1v1h-1zM525 152h1v1h-1zM514 153h1v1h-1zM518 153h1v1h-1zM522 153h1v1h-1zM526 153h1v1h-1zM515 154h1v1h-1zM519 154h1v1h-1zM523 154h1v1h-1zM516 155h1v1h-1zM520 155h1v1h-1zM524 155h1v1h-1zM517 156h1v1h-1zM521 156h1v1h-1zM525 156h1v1h-1zM514 157h1v1h-1zM518 157h1v1h-1zM522 157h1v1h-1zM526 157h1v1h-1zM515 158h1v1h-1zM519 158h1v1h-1zM523 158h1v1h-1zM516 159h1v1h-1zM520 159h1v1h-1zM524 159h1v1h-1zM517 160h1v1h-1zM521 160h1v1h-1zM525 160h1v1h-1zM514 161h1v1h-1zM518 161h1v1h-1zM522 161h1v1h-1zM526 161h1v1h-1zM515 162h1v1h-1zM519 162h1v1h-1zM523 162h1v1h-1zM516 163h1v1h-1zM520 163h1v1h-1zM524 163h1v1h-1zM517 164h1v1h-1zM521 164h1v1h-1zM525 164h1v1h-1zM514 165h1v1h-1zM518 165h1v1h-1zM522 165h1v1h-1zM526 165h1v1h-1zM515 166h1v1h-1zM519 166h1v1h-1zM523 166h1v1h-1zM516 167h1v1h-1zM520 167h1v1h-1zM524 167h1v1h-1zM517 168h1v1h-1zM521 168h1v1h-1zM525 168h1v1h-1zM514 169h1v1h-1zM518 169h1v1h-1zM522 169h1v1h-1zM526 169h1v1h-1zM515 170h1v1h-1zM519 170h1v1h-1zM523 170h1v1h-1zM516 171h1v1h-1zM520 171h1v1h-1zM524 171h1v1h-1zM517 172h1v1h-1zM521 172h1v1h-1zM525 172h1v1h-1zM514 173h1v1h-1zM518 173h1v1h-1zM522 173h1v1h-1zM526 173h1v1h-1zM515 174h1v1h-1zM519 174h1v1h-1zM523 174h1v1h-1zM516 175h1v1h-1zM520 175h1v1h-1zM524 175h1v1h-1zM517 176h1v1h-1zM521 176h1v1h-1zM525 176h1v1h-1zM514 177h1v1h-1zM518 177h1v1h-1zM522 177h1v1h-1zM526 177h1v1h-1zM515 178h1v1h-1zM519 178h1v1h-1zM523 178h1v1h-1zM516 179h1v1h-1zM520 179h1v1h-1zM524 179h1v1h-1zM517 180h1v1h-1zM521 180h1v1h-1zM525 180h1v1h-1zM514 181h1v1h-1zM518 181h1v1h-1zM522 181h1v1h-1zM526 181h1v1h-1zM515 182h1v1h-1zM519 182h1v1h-1zM523 182h1v1h-1zM516 183h1v1h-1zM520 183h1v1h-1zM524 183h1v1h-1zM517 184h1v1h-1zM521 184h1v1h-1zM525 184h1v1h-1zM514 185h1v1h-1zM518 185h1v1h-1zM522 185h1v1h-1zM526 185h1v1h-1zM515 186h1v1h-1zM519 186h1v1h-1zM523 186h1v1h-1zM516 187h1v1h-1zM520 187h1v1h-1zM524 187h1v1h-1zM517 188h1v1h-1zM521 188h1v1h-1zM525 188h1v1h-1zM514 189h1v1h-1zM518 189h1v1h-1zM522 189h1v1h-1zM526 189h1v1h-1zM515 190h1v1h-1zM519 190h1v1h-1zM523 190h1v1h-1zM516 191h1v1h-1zM520 191h1v1h-1zM524 191h1v1h-1zM517 192h1v1h-1zM521 192h1v1h-1zM525 192h1v1h-1zM514 193h1v1h-1zM518 193h1v1h-1zM522 193h1v1h-1zM526 193h1v1h-1zM515 194h1v1h-1zM519 194h1v1h-1zM523 194h1v1h-1zM516 195h1v1h-1zM520 195h1v1h-1zM524 195h1v1h-1zM517 196h1v1h-1zM521 196h1v1h-1zM525 196h1v1h-1zM514 197h1v1h-1zM518 197h1v1h-1zM522 197h1v1h-1zM526 197h1v1h-1zM515 198h1v1h-1zM519 198h1v1h-1zM523 198h1v1h-1zM516 199h1v1h-1zM520 199h1v1h-1zM524 199h1v1h-1zM517 200h1v1h-1zM521 200h1v1h-1zM525 200h1v1h-1zM514 201h1v1h-1zM518 201h1v1h-1zM522 201h1v1h-1zM526 201h1v1h-1zM515 202h1v1h-1zM519 202h1v1h-1zM523 202h1v1h-1zM516 203h1v1h-1zM520 203h1v1h-1zM524 203h1v1h-1zM517 204h1v1h-1zM521 204h1v1h-1zM525 204h1v1h-1zM514 205h1v1h-1zM518 205h1v1h-1zM522 205h1v1h-1zM526 205h1v1h-1zM515 206h1v1h-1zM519 206h1v1h-1zM523 206h1v1h-1zM516 207h1v1h-1zM520 207h1v1h-1zM524 207h1v1h-1zM517 208h1v1h-1zM521 208h1v1h-1zM525 208h1v1h-1zM514 209h1v1h-1zM518 209h1v1h-1zM522 209h1v1h-1zM526 209h1v1h-1zM515 210h1v1h-1zM519 210h1v1h-1zM523 210h1v1h-1zM516 211h1v1h-1zM520 211h1v1h-1zM524 211h1v1h-1z"/>
<rect x="531" y="100" width="14" height="112" fill="#000"/>
<rect x="532" y="101" width="12" height="111" fill="#fff"/>
<path fill="#000" d="M532 101h12v1h-12zM532 103h12v1h-12zM532 105h12v1h-12zM532 107h12v1h-12zM532 109h12v1h-12zM532 111h12v1h-12zM532 113h12v1h-12zM532 115h12v1h-12zM532 117h12v1h-12zM532 119h12v1h-12zM532 121h12v1h-12zM532 123h12v1h-12zM532 125h12v1h-12zM532 127h12v1h-12zM532 129h12v1h-12zM532 131h12v1h-12zM532 133h12v1h-12zM532 135h12v1h-12zM532 137h12v1h-12zM532 139h12v1h-12zM532 141h12v1h-12zM532 143h12v1h-12zM532 145h12v1h-12zM532 147h12v1h-12zM532 149h12v1h-12zM532 151h12v1h-12zM532 153h12v1h-12zM532 155h12v1h-12zM532 157h12v1h-12zM532 159h12v1h-12zM532 161h12v1h-12zM532 163h12v1h-12zM532 165h12v1h-12zM532 167h12v1h-12zM532 169h12v1h-12zM532 171h12v1h-12zM532 173h12v1h-12zM532 175h12v1h-12zM532 177h12v1h-12zM532 179h12v1h-12zM532 181h12v1h-12zM532 183h12v1h-12zM532 185h12v1h-12zM532 187h12v1h-12zM532 189h12v1h-12zM532 191h12v1h-12zM532 193h12v1h-12zM532 195h12v1h-12zM532 197h12v1h-12zM532 199h12v1h-12zM532 201h12v1h-12zM532 203h12v1h-12zM532 205h12v1h-12zM532 207h12v1h-12zM532 209h12v1h-12zM532 211h12v1h-12z"/>
<rect x="62" y="10" width="1" height="203" fill="#000"/>
<rect x="62" y="212" width="499" height="1" fill="#000"/>
<rect x="63" y="10" width="5" height="1" fill="#000"/>
<rect x="63" y="44" width="5" height="1" fill="#000"/>
<rect x="63" y="77" width="5" height="1" fill="#000"/>
<rect x="63" y="111" width="5" height="1" fill="#000"/>
<rect x="63" y="145" width="5" height="1" fill="#000"/>
<rect x="63" y="178" width="5" height="1" fill="#000"/>
<path fill="#595959" d="M84 169h5v1h-5zM84 181h5v1h-5zM86 169h1v13h-1z"/>
<path fill="#595959" d="M101 162h5v1h-5zM101 178h5v1h-5zM103 162h1v17h-1z"/>
<path fill="#595959" d="M119 152h5v1h-5zM119 160h5v1h-5zM121 152h1v9h-1z"/>
<path fill="#595959" d="M136 108h5v1h-5zM136 126h5v1h-5zM138 108h1v19h-1z"/>
<path fill="#595959" d="M183 170h6v1h-6zM183 174h6v1h-6zM186 170h1v5h-1z"/>
<path fill="#595959" d="M201 147h5v1h-5zM201 170h5v1h-5zM203 147h1v24h-1z"/>
<path fill="#595959" d="M218 118h6v1h-6zM218 130h6v1h-6zM221 118h1v13h-1z"/>
<path fill="#595959" d="M236 28h5v1h-5zM236 48h5v1h-5zM238 28h1v21h-1z"/>
<path fill="#595959" d="M283 169h5v1h-5zM283 176h5v1h-5zM285 169h1v8h-1z"/>
<path fill="#595959" d="M301 152h5v1h-5zM301 163h5v1h-5zM303 152h1v12h-1z"/>
<path fill="#595959" d="M318 118h5v1h-5zM318 127h5v1h-5zM320 118h1v10h-1z"/>
<path fill="#595959" d="M336 28h5v1h-5zM336 37h5v1h-5zM338 28h1v10h-1z"/>
<path fill="#595959" d="M383 142h5v1h-5zM383 157h5v1h-5zM385 142h1v16h-1z"/>
<path fill="#595959" d="M400 161h6v1h-6zM400 166h6v1h-6zM403 161h1v6h-1z"/>
<path fill="#595959" d="M418 141h5v1h-5zM418 152h5v1h-5zM420 141h1v12h-1z"/>
<path fill="#595959" d="M435 57h6v1h-6zM435 64h6v1h-6zM438 57h1v8h-1z"/>
<path fill="#595959" d="M483 172h5v1h-5zM483 178h5v1h-5zM485 172h1v7h-1z"/>
<path fill="#595959" d="M500 160h6v1h-6zM500 163h6v1h-6zM502 160h1v4h-1z"/>
<path fill="#595959" d="M518 146h5v1h-5zM518 154h5v1h-5zM520 146h1v9h-1z"/>
<path fill="#595959" d="M535 96h6v1h-6zM535 104h6v1h-6zM537 96h1v9h-1z"/>
<rect x="556" y="29" width="10" height="10" fill="#000"/>
<rect x="557" y="30" width="8" height="8" fill="#fff"/>
<rect x="556" y="65" width="10" height="10" fill="#000"/>
<rect x="557" y="66" width="8" height="8" fill="#fff"/>
<path fill="#000" d="M560 67h1v1h-1zM564 67h1v1h-1zM558 69h1v1h-1zM562 69h1v1h-1zM560 71h1v1h-1zM564 71h1v1h-1zM558 73h1v1h-1zM562 73h1v1h-1z"/>
<rect x="556" y="100" width="10" height="10" fill="#000"/>
<rect x="557" y="101" width="8" height="8" fill="#fff"/>
<path fill="#000" d="M558 101h1v1h-1zM562 101h1v1h-1zM559 102h1v1h-1zM563 102h1v1h-1zM560 103h1v1h-1zM564 103h1v1h-1zM557 104h1v1h-1zM561 104h1v1h-1zM558 105h1v1h-1zM562 105h1v1h-1zM559 106h1v1h-1zM563 106h1v1h-1zM560 107h1v1h-1zM564 107h1v1h-1zM557 108h1v1h-1zM561 108h1v1h-1z"/>
<rect x="556" y="136" width="10" height="10" fill="#000"/>
<rect x="557" y="137" width="8" height="8" fill="#fff"/>
<path fill="#000" d="M557 137h8v1h-8zM557 139h8v1h-8zM557 141h8v1h-8zM557 143h8v1h-8z"/>
<rect x="557" y="135" width="8" height="1" fill="#999"/><rect x="556" y="135" width="1" height="1" fill="#ccc"/><rect x="565" y="135" width="1" height="1" fill="#ddd"/>
<rect x="558" y="73" width="1" height="1" fill="#555"/><rect x="562" y="73" width="1" height="1" fill="#555"/>
</g>
<defs><filter id="px" x="0" y="0" width="1926" height="766" filterUnits="userSpaceOnUse" primitiveUnits="userSpaceOnUse" color-interpolation-filters="sRGB"><feFlood x="1" y="1" width="1" height="1" flood-color="#000"/><feComposite x="0" y="0" width="3" height="3"/><feTile x="0" y="0" width="1926" height="766" result="grid"/><feGaussianBlur in="SourceGraphic" stdDeviation="0.8" result="b"/><feComposite in="b" in2="grid" operator="in"/><feMorphology operator="dilate" radius="1"/><feComponentTransfer><feFuncA type="linear" slope="2.1" intercept="-0.22"/></feComponentTransfer></filter></defs>
<g font-family="'Liberation Serif',serif" font-size="42" fill="#111" text-anchor="middle" filter="url(#px)">
<text transform="translate(247.2,474.9) scale(1.12,1)">d</text>
<text transform="translate(293.8,433.9) scale(1.12,1)">c</text>
<text transform="translate(347.4,416.7) scale(1.12,1)">b</text>
<text transform="translate(398.2,288.1) scale(1.12,1)">a</text>
<text transform="translate(533.0,466.1) scale(1.12,1)">d</text>
<text transform="translate(582.0,391.6) scale(1.12,1)">c</text>
<text transform="translate(632.0,326.0) scale(1.12,1)">b</text>
<text transform="translate(682.9,61.8) scale(1.12,1)">a</text>
<text transform="translate(819.3,463.1) scale(1.12,1)">d</text>
<text transform="translate(867.6,423.1) scale(1.12,1)">c</text>
<text transform="translate(917.9,323.1) scale(1.12,1)">b</text>
<text transform="translate(968.8,65.1) scale(1.12,1)">a</text>
<text transform="translate(1100.5,391.8) scale(1.0,1)">bc</text>
<text transform="translate(1150.7,439.9) scale(1.12,1)">c</text>
<text transform="translate(1204.2,391.8) scale(1.12,1)">b</text>
<text transform="translate(1251.8,145.1) scale(1.12,1)">a</text>
<text transform="translate(1388.2,472.0) scale(1.12,1)">d</text>
<text transform="translate(1436.7,434.0) scale(1.12,1)">c</text>
<text transform="translate(1487.0,403.1) scale(1.12,1)">b</text>
<text transform="translate(1538.0,257.1) scale(1.12,1)">a</text>
</g>
<text transform="translate(167.2,51.7) scale(1,1.052)" font-family="'Liberation Serif',serif" font-size="57.5" text-anchor="end" fill="#000">150</text>
<text transform="translate(167.2,147.9) scale(1,1.052)" font-family="'Liberation Serif',serif" font-size="57.5" text-anchor="end" fill="#000">125</text>
<text transform="translate(167.2,243.9) scale(1,1.052)" font-family="'Liberation Serif',serif" font-size="57.5" text-anchor="end" fill="#000">100</text>
<text transform="translate(167.2,339) scale(1,1.052)" font-family="'Liberation Serif',serif" font-size="57.5" text-anchor="end" fill="#000">75</text>
<text transform="translate(167.2,434.5) scale(1,1.052)" font-family="'Liberation Serif',serif" font-size="57.5" text-anchor="end" fill="#000">50</text>
<text transform="translate(167.2,530.5) scale(1,1.052)" font-family="'Liberation Serif',serif" font-size="57.5" text-anchor="end" fill="#000">25</text>
<text transform="translate(167.2,626.6) scale(1,1.052)" font-family="'Liberation Serif',serif" font-size="57.5" text-anchor="end" fill="#000">0</text>
<text transform="translate(319.7,674.6) scale(1,1.015)" font-family="'Liberation Serif',serif" font-size="54" text-anchor="middle" fill="#000">10</text>
<text transform="translate(604.4,674.6) scale(1,1.015)" font-family="'Liberation Serif',serif" font-size="54" text-anchor="middle" fill="#000">20</text>
<text transform="translate(897,674.6) scale(1,1.015)" font-family="'Liberation Serif',serif" font-size="54" text-anchor="middle" fill="#000">30</text>
<text transform="translate(1177.8,674.6) scale(1,1.015)" font-family="'Liberation Serif',serif" font-size="54" text-anchor="middle" fill="#000">40</text>
<text transform="translate(1461.4,674.6) scale(1,1.015)" font-family="'Liberation Serif',serif" font-size="54" text-anchor="middle" fill="#000">50</text>
<text transform="translate(733.7,749.3) scale(1,0.95)" font-family="'Liberation Serif','Noto Serif CJK SC',serif" font-size="60" text-anchor="start" fill="#000" font-weight="500" letter-spacing="0.2">提取时间</text>
<text transform="translate(973.5,748) scale(1,1.08)" font-family="'Liberation Serif',serif" font-size="58.5" text-anchor="start" fill="#000">/min</text>
<text transform="translate(59.5,638) rotate(-90) scale(1,0.93)" font-family="'Liberation Serif','Noto Serif CJK SC',serif" font-size="59.7" text-anchor="start" fill="#000" font-weight="600">类胡萝卜素得率</text>
<text transform="translate(60,220) rotate(-90)" font-family="'Liberation Serif',serif" font-size="59" text-anchor="start" fill="#000">/(μg·g<tspan font-size="36" dy="-21">-1</tspan><tspan dy="21">)</tspan></text>
<text transform="translate(1626.8,119.5)" font-family="'Liberation Serif','Noto Serif CJK SC',serif" font-size="59.5" text-anchor="start" fill="#000" font-weight="500">叶黄素</text>
<text transform="translate(1626.8,224.7)" font-family="'Liberation Serif','Noto Serif CJK SC',serif" font-size="59.5" text-anchor="start" fill="#000" font-weight="500">玉米黄质</text>
<text transform="translate(1626.8,320.5)" font-family="'Liberation Serif','Noto Serif CJK SC',serif" font-size="59.5" text-anchor="start" fill="#000" font-weight="500">α-胡萝卜素</text>
<text transform="translate(1626.8,422.3)" font-family="'Liberation Serif','Noto Serif CJK SC',serif" font-size="59.5" text-anchor="start" fill="#000" font-weight="500">β-胡萝卜素</text>
</svg></body></html>
